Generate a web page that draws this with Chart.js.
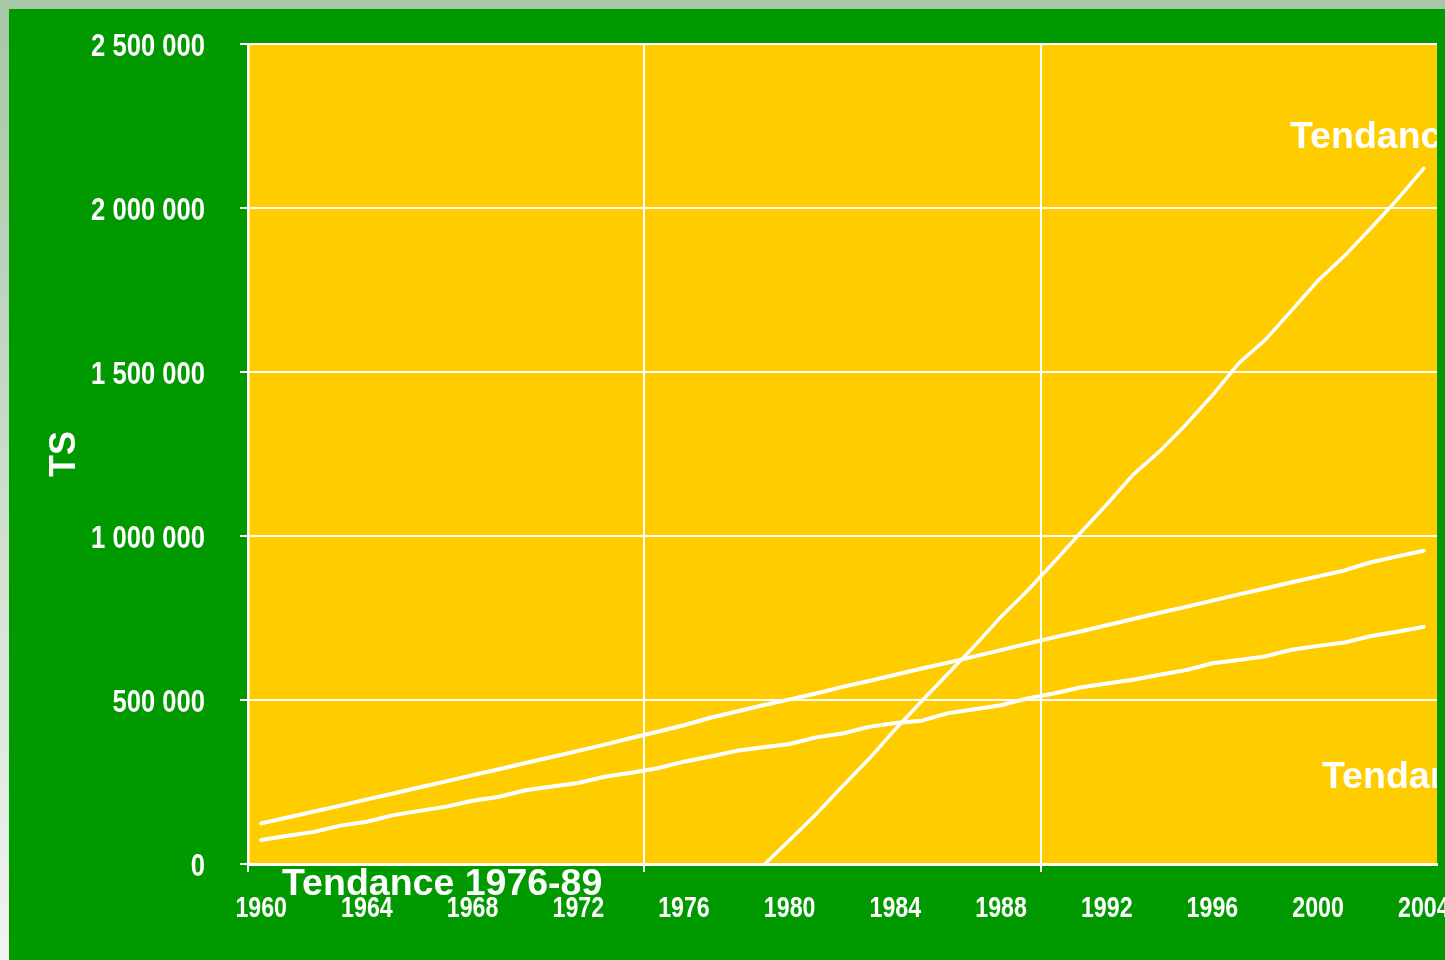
<!DOCTYPE html>
<html>
<head>
<meta charset="utf-8">
<style>
  html, body { margin: 0; padding: 0; background: #009900; overflow: hidden; }
  canvas { display: block; }
</style>
</head>
<body>
<canvas id="ts" width="1445" height="960"></canvas>
<script src="https://cdn.jsdelivr.net/npm/chart.js@4.4.1/dist/chart.umd.min.js"></script>
<script>
// years on the category axis, one point per year
const years = [
  1960, 1961, 1962, 1963, 1964, 1965, 1966, 1967, 1968, 1969,
  1970, 1971, 1972, 1973, 1974, 1975, 1976, 1977, 1978, 1979,
  1980, 1981, 1982, 1983, 1984, 1985, 1986, 1987, 1988, 1989,
  1990, 1991, 1992, 1993, 1994, 1995, 1996, 1997, 1998, 1999,
  2000, 2001, 2002, 2003, 2004
];
const shownYears = [1960, 1964, 1968, 1972, 1976, 1980, 1984, 1988, 1992, 1996, 2000, 2004];
const yTicks = [0, 500000, 1000000, 1500000, 2000000, 2500000];

// upper trend line
const tendanceHaute = [
  124000, 142000, 160000, 178000, 197000, 215000, 234000, 252000, 271000, 289000,
  308000, 326000, 345000, 364000, 384000, 403000, 423000, 446000, 465000, 484000,
  502000, 520000, 540000, 558000, 577000, 596000, 614000, 633000, 652000, 672000,
  691000, 709000, 728000, 747000, 766000, 784000, 803000, 822000, 840000, 859000,
  877000, 895000, 920000, 938000, 955000
];
// lower trend line
const tendanceBasse = [
  73000, 86000, 98000, 117000, 129000, 149000, 162000, 175000, 193000, 205000,
  225000, 236000, 247000, 266000, 278000, 292000, 312000, 328000, 345000, 356000,
  366000, 386000, 398000, 418000, 430000, 437000, 460000, 472000, 484000, 505000,
  520000, 538000, 550000, 562000, 577000, 591000, 612000, 622000, 633000, 653000,
  665000, 675000, 695000, 708000, 723000
];
// trend 1976-89, starts at the axis around 1979
const tendance7689 = [
  null, null, null, null, null, null, null, null, null, null,
  null, null, null, null, null, null, null, null, null, -5000,
  73000, 152000, 237000, 320000, 411000, 497000, 581000, 665000, 754000, 833000,
  920000, 1009000, 1096000, 1187000, 1258000, 1340000, 1429000, 1527000, 1598000, 1688000,
  1779000, 1854000, 1939000, 2026000, 2121000
];

const WHITE = '#ffffff';
const CLEAR = 'rgba(0,0,0,0)';
const SANS = '"Liberation Sans", Arial, sans-serif';

const background = {
  id: 'background',
  beforeDraw(chart) {
    const { ctx, chartArea: a, width, height } = chart;
    ctx.save();
    const g = ctx.createLinearGradient(0, 0, 0, height);
    g.addColorStop(0, '#a6c6a6');
    g.addColorStop(1, '#f1f4f1');
    ctx.fillStyle = g;
    ctx.fillRect(0, 0, width, height);
    ctx.fillStyle = '#a9c8a9';
    ctx.fillRect(0, 0, width, 9);
    ctx.fillStyle = '#009900';
    ctx.fillRect(9, 9, width - 9, height - 9);
    ctx.fillStyle = '#ffcc00';
    ctx.fillRect(a.left, a.top, a.right - a.left, a.bottom - a.top);
    ctx.restore();
  }
};

// tick labels in a condensed bold face (no narrow font installed, so squeeze Liberation Sans)
const narrowTicks = {
  id: 'narrowTicks',
  afterDraw(chart) {
    const { ctx, scales: { x, y } } = chart;
    const put = (text, px, py, align) => {
      ctx.save();
      ctx.translate(px, py);
      ctx.scale(0.8, 1);
      ctx.textAlign = align;
      ctx.fillText(text, 0, 0);
      ctx.restore();
    };
    ctx.save();
    ctx.fillStyle = WHITE;
    ctx.textBaseline = 'alphabetic';
    ctx.font = 'bold 32px ' + SANS;
    y.ticks.forEach(t => put(t.label, y.right - 43, y.getPixelForValue(t.value) + 12, 'right'));
    ctx.font = 'bold 29px ' + SANS;
    x.ticks.forEach((t, i) => {
      if (t.label) put(t.label, x.getPixelForTick(i), x.top + 53, 'center');
    });
    ctx.restore();
  }
};

const tendances = {
  id: 'tendances',
  afterDraw(chart) {
    const { ctx, chartArea: a, height } = chart;
    ctx.save();
    ctx.beginPath();
    ctx.rect(0, 0, a.right, height);
    ctx.clip();
    ctx.fillStyle = WHITE;
    ctx.font = 'bold 37.5px ' + SANS;
    ctx.textBaseline = 'alphabetic';
    ctx.textAlign = 'left';
    ctx.fillText('Tendance', a.left + 1042, a.top + 104);
    ctx.fillText('Tendance', a.left + 1074, a.top + 744);
    ctx.fillText('Tendance 1976-89', a.left + 34, a.bottom + 31);
    ctx.restore();
  }
};

const line = (label, data, width) => ({
  label,
  data,
  borderColor: WHITE,
  borderWidth: width,
  borderCapStyle: 'round',
  borderJoinStyle: 'round',
  pointRadius: 0,
  tension: 0,
  fill: false
});

new Chart(document.getElementById('ts'), {
  type: 'line',
  data: {
    labels: years,
    datasets: [
      line('Tendance', tendanceHaute, 4),
      line('Tendance', tendanceBasse, 4),
      line('Tendance 1976-89', tendance7689, 3.5)
    ]
  },
  plugins: [background, narrowTicks, tendances],
  options: {
    responsive: false,
    devicePixelRatio: 1,
    animation: false,
    events: [],
    layout: { padding: { top: 44, right: 8, left: 0, bottom: 0 } },
    plugins: { legend: { display: false }, tooltip: { enabled: false } },
    scales: {
      x: {
        offset: true,
        grid: {
          offset: true,
          color: c => (c.index % 15 === 0 ? WHITE : CLEAR),
          lineWidth: 2,
          tickLength: 8
        },
        border: { color: WHITE, width: 3 },
        ticks: {
          autoSkip: false,
          maxRotation: 0,
          color: CLEAR,
          font: { family: SANS, weight: 'bold', size: 24 },
          padding: 18,
          callback: (v, i) => (shownYears.includes(years[i]) ? String(years[i]) : '')
        },
        afterFit: s => { s.height = 96; s.paddingLeft = 0; s.paddingRight = 0; }
      },
      y: {
        min: 0,
        max: 2500000,
        afterBuildTicks: s => { s.ticks = yTicks.map(v => ({ value: v })); },
        grid: { color: WHITE, lineWidth: 2, tickLength: 8 },
        border: { color: WHITE, width: 2.5 },
        ticks: {
          color: CLEAR,
          font: { family: SANS, weight: 'bold', size: 24 },
          padding: 35,
          callback: v => String(v).replace(/\B(?=(\d{3})+(?!\d))/g, ' ')
        },
        title: {
          display: true,
          text: 'TS',
          color: WHITE,
          font: { family: SANS, weight: 'bold', size: 36 },
          padding: { top: 43, bottom: 0 }
        },
        afterFit: s => { s.width = 248; s.paddingTop = 0; s.paddingBottom = 0; }
      }
    }
  }
});
</script>
</body>
</html>
